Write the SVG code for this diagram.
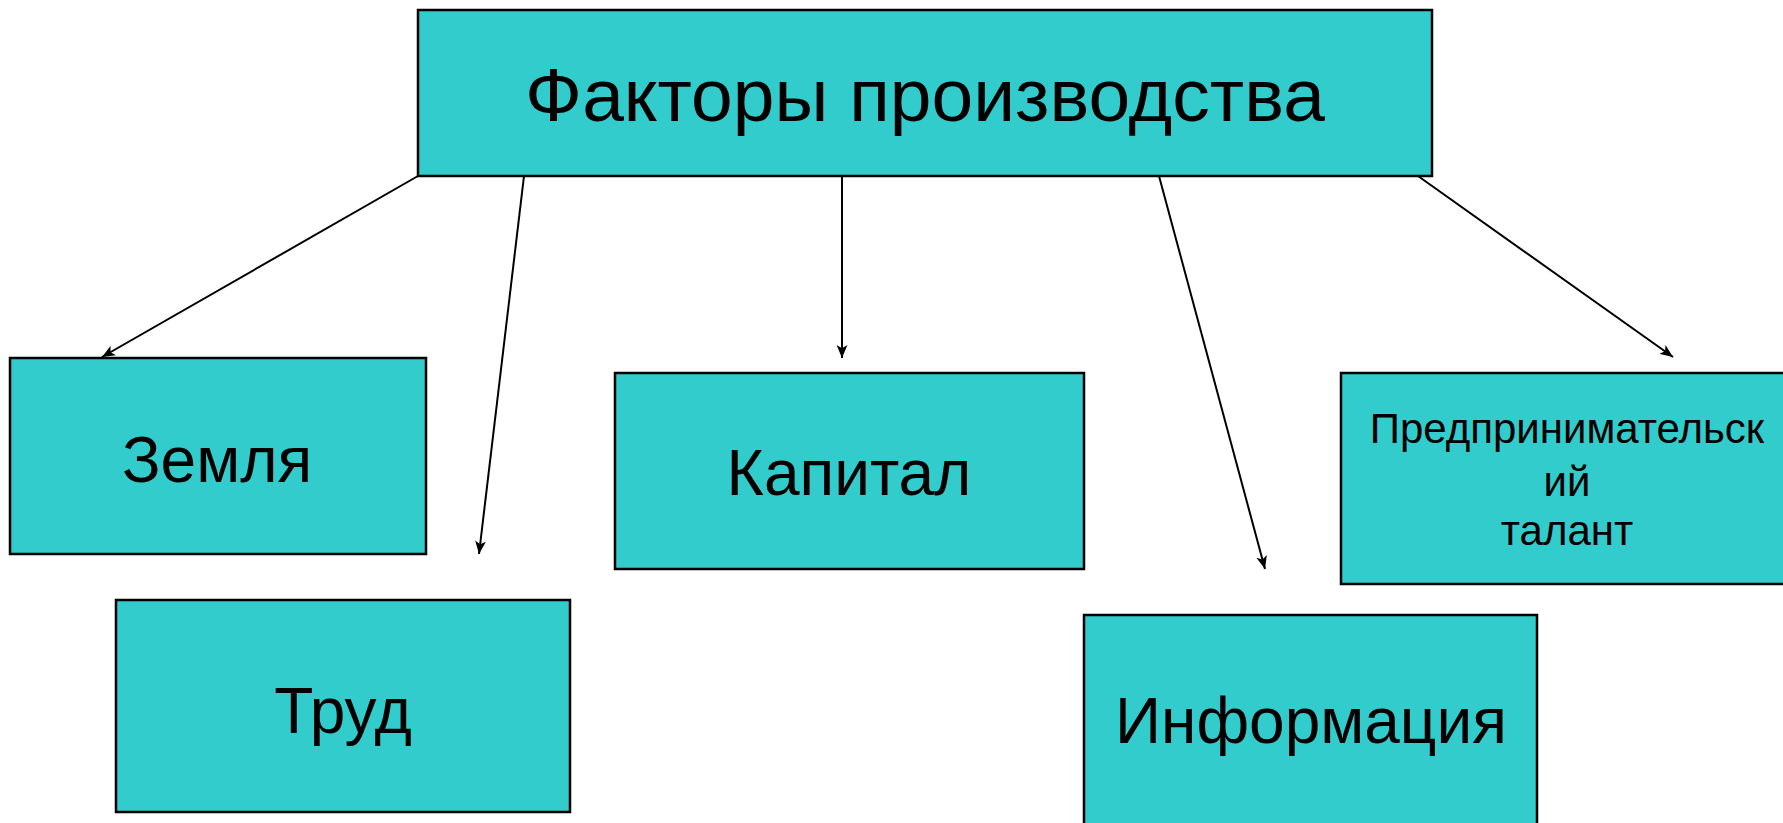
<svg xmlns="http://www.w3.org/2000/svg" width="1783" height="823" viewBox="0 0 1783 823">
<style>
.box{fill:#33CCCC;stroke:#000;stroke-width:2.5}
.t{font-family:"Liberation Sans",Arial,sans-serif;fill:#000;text-anchor:middle}
.c{stroke:#000;stroke-width:2;fill:none;marker-end:url(#ah)}
</style>
<defs>
<marker id="ah" viewBox="0 0 12 10" refX="12" refY="5" markerWidth="13" markerHeight="11" markerUnits="userSpaceOnUse" orient="auto">
<path d="M0,0 L12,5 L0,10 L3,5 Z" fill="#000"/>
</marker>
</defs>
<rect width="1783" height="823" fill="#fff"/>
<g id="connectors">
<line class="c" x1="418" y1="176" x2="102" y2="357"/>
<line class="c" x1="524" y1="176" x2="479" y2="554"/>
<line class="c" x1="842" y1="176" x2="842" y2="358"/>
<line class="c" x1="1159" y1="176" x2="1265" y2="569"/>
<line class="c" x1="1418" y1="176" x2="1673" y2="357"/>
</g>
<g id="n-top">
<rect class="box" x="418" y="10" width="1014" height="166"/>
<text class="t" x="925" y="121" font-size="75">Факторы производства</text>
</g>
<g id="n-zemlya">
<rect class="box" x="10" y="358" width="416" height="196"/>
<text class="t" x="217" y="482" font-size="64">Земля</text>
</g>
<g id="n-trud">
<rect class="box" x="116" y="600" width="454" height="212"/>
<text class="t" x="343" y="733" font-size="64">Труд</text>
</g>
<g id="n-kapital">
<rect class="box" x="615" y="373" width="469" height="196"/>
<text class="t" x="849" y="495" font-size="64">Капитал</text>
</g>
<g id="n-info">
<rect class="box" x="1084" y="615" width="453" height="230"/>
<text class="t" x="1311" y="743" font-size="64">Информация</text>
</g>
<g id="n-predpr">
<rect class="box" x="1341" y="373" width="460" height="211"/>
<text class="t" x="1567" y="443" font-size="42">Предпринимательск</text>
<text class="t" x="1567" y="496" font-size="42">ий</text>
<text class="t" x="1567" y="545" font-size="42">талант</text>
</g>
</svg>
